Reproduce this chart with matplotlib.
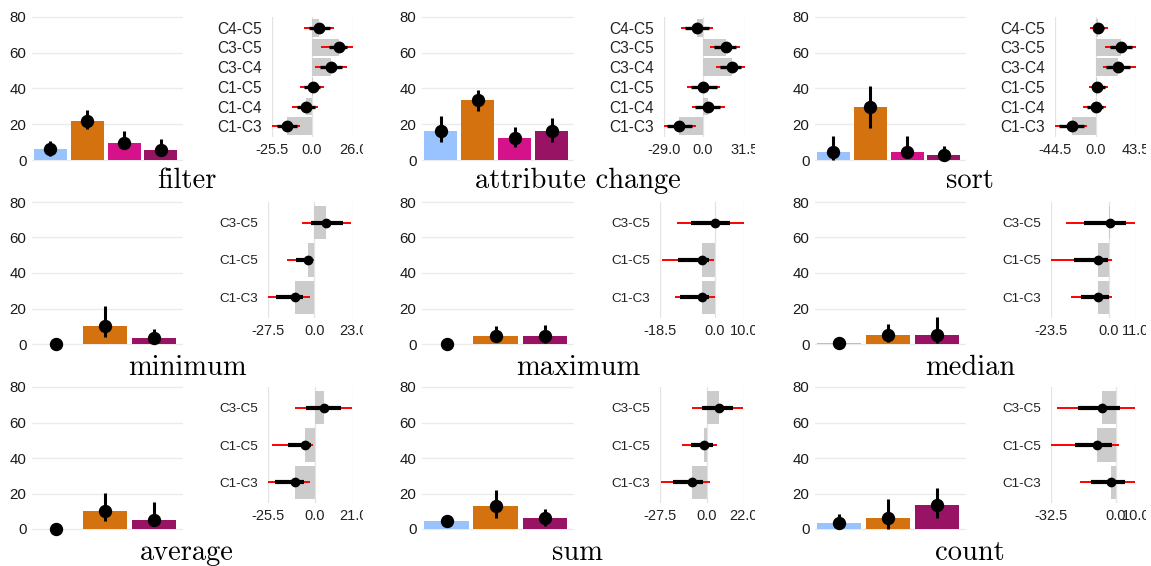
import numpy as np
import matplotlib
matplotlib.use("Agg")
import matplotlib.pyplot as plt
from matplotlib.ticker import FixedLocator, FuncFormatter
from matplotlib.transforms import Bbox, TransformedBbox

plt.rcParams['font.family'] = ['Liberation Sans', 'DejaVu Sans']
plt.rcParams['axes.unicode_minus'] = False

# ---- data ----
panel_names = ["filter", "attribute change", "sort",
               "minimum", "maximum", "median",
               "average", "sum", "count"]

palette = ["#99c3ff", "#d3720f", "#d6128a", "#991364"]
colors_row1 = [palette[0], palette[1], palette[2], palette[3]]
colors_row23 = [palette[0], palette[1], palette[3]]

bar_mean = [
    [6.0, 22.0, 9.7, 5.6],
    [16.2, 33.5, 12.1, 16.2],
    [4.5, 29.6, 4.5, 2.8],
    [0.0, 10.3, 3.4],
    [0.0, 4.3, 4.3],
    [0.6, 5.2, 5.2],
    [0.0, 10.3, 5.2],
    [4.3, 13.1, 6.2],
    [3.4, 6.2, 13.3],
]
bar_lo = [
    [2.5, 17.1, 6.0, 2.0],
    [10.2, 27.5, 7.1, 10.2],
    [0.0, 18.0, 1.9, 0.4],
    [0.0, 3.7, 0.6],
    [0.0, 1.5, 0.6],
    [0.6, 0.9, 0.6],
    [0.0, 4.7, 1.5],
    [1.5, 6.2, 1.9],
    [0.2, 0.0, 6.2],
]
bar_hi = [
    [10.8, 27.9, 16.2, 11.5],
    [24.6, 39.1, 18.2, 23.3],
    [13.4, 41.3, 13.4, 8.0],
    [0.0, 21.5, 8.4],
    [0.0, 9.9, 10.5],
    [0.6, 11.4, 15.2],
    [0.0, 20.2, 15.2],
    [7.5, 22.1, 11.4],
    [8.4, 16.9, 23.0],
]

# pairwise differences, bottom to top
pairs6 = ["C1-C3", "C1-C4", "C1-C5", "C3-C4", "C3-C5", "C4-C5"]
pairs3 = ["C1-C3", "C1-C5", "C3-C5"]

diff_mean = [
    [-15.9, -3.6, 0.6, 12.0, 16.9, 4.6],
    [-17.5, 3.7, 0.0, 21.5, 17.0, -4.2],
    [-25.8, 0.0, 1.1, 24.0, 26.9, 1.8],
    [-11.4, -4.0, 7.0],
    [-4.2, -4.2, 0.1],
    [-4.5, -4.5, 0.3],
    [-10.6, -5.5, 5.0],
    [-8.8, -1.6, 7.2],
    [-2.7, -9.7, -7.2],
]
diff_lo95 = [
    [-25.5, -12.5, -7.8, 2.1, 5.7, -4.9],
    [-29.0, -8.0, -11.7, 10.2, 5.2, -16.0],
    [-44.5, -13.6, -7.4, 7.4, 10.3, -6.6],
    [-27.5, -16.0, -7.4],
    [-13.5, -17.7, -12.6],
    [-15.3, -23.4, -17.6],
    [-25.5, -23.3, -11.0],
    [-27.1, -14.6, -8.8],
    [-18.0, -32.5, -29.7],
]
diff_hi95 = [
    [-7.4, 3.8, 7.4, 22.2, 25.8, 13.7],
    [-5.0, 16.2, 13.2, 31.2, 27.8, 7.5],
    [-9.2, 11.0, 13.6, 43.2, 43.2, 12.9],
    [-2.6, -0.4, 22.0],
    [0.0, -0.2, 9.9],
    [1.2, 1.2, 10.4],
    [-2.4, -0.9, 20.2],
    [1.9, 5.8, 21.4],
    [9.5, 1.5, 9.5],
]
diff_lo50 = [
    [-22.2, -9.5, -5.3, 5.3, 10.6, -2.1],
    [-26.7, -5.5, -9.2, 13.2, 8.2, -13.0],
    [-40.6, -10.0, -4.8, 11.0, 14.8, -3.7],
    [-23.0, -11.0, -2.0],
    [-11.7, -12.4, -8.1],
    [-11.5, -14.2, -10.0],
    [-21.5, -14.7, -4.6],
    [-19.9, -9.2, -2.9],
    [-12.5, -20.5, -18.8],
]
diff_hi50 = [
    [-9.5, 2.1, 5.3, 19.0, 22.2, 11.6],
    [-8.0, 13.2, 10.7, 28.2, 24.5, 4.5],
    [-12.9, 7.4, 10.0, 37.0, 38.7, 9.2],
    [-7.0, -2.0, 17.0],
    [-1.9, -1.9, 5.4],
    [0.0, -0.4, 6.8],
    [-6.0, -1.8, 14.7],
    [-2.3, 3.5, 15.6],
    [4.5, -2.2, 2.0],
]
diff_range = [
    (-25.5, 26.0), (-29.0, 31.5), (-44.5, 43.5),
    (-27.5, 23.0), (-18.5, 10.0), (-23.5, 11.0),
    (-25.5, 21.0), (-27.5, 22.0), (-32.5, 10.0),
]

# ---- layout (pixels) ----
W, H = 1151, 566
fig = plt.figure(figsize=(W / 100, H / 100), dpi=100)

bar_x = [(32, 183), (422, 574), (815, 966)]
row_y80 = [16.7, 202, 387]
row_y0 = [160, 344, 529]
diff_x = [[(272, 353), (664, 745), (1055, 1136)],
          [(268, 353), (660, 744), (1051, 1136)],
          [(268, 353), (660, 744), (1051, 1136)]]
diff_y = [(17, 137), (202, 318), (387, 503)]
title_x = [187, 578, 970]
title_y = [188, 375, 560]
clip_right = [363, 755, 1146]
cell_left = [0, 384, 768]


def px_axes(x0, x1, y0, y1):
    return fig.add_axes([x0 / W, 1 - y1 / H, (x1 - x0) / W, (y1 - y0) / H])


fmt = FuncFormatter(lambda v, p: "%.1f" % v)

for k in range(9):
    r, c = k // 3, k % 3
    cols = colors_row1 if r == 0 else colors_row23
    mean = np.array(bar_mean[k])
    n = len(mean)
    x = np.arange(n)

    # bar chart
    ppu = (row_y0[r] - row_y80[r]) / 80.0
    ax = px_axes(bar_x[c][0], bar_x[c][1], row_y80[r] - 2 * ppu, row_y0[r] + 2 * ppu)
    ax.bar(x, mean, width=0.9, color=cols, zorder=2)
    ax.vlines(x, bar_lo[k], bar_hi[k], color='black', lw=2.2, zorder=3)
    ax.plot(x, mean, 'o', color='black', ms=8.6, zorder=4, clip_on=False)
    ax.set_xlim(-0.5, n - 0.4)
    ax.set_ylim(-2, 82)
    ax.set_yticks([0, 20, 40, 60, 80])
    ax.set_xticks([])
    ax.grid(axis='y', color='#ebebeb', lw=1.0, zorder=0)
    ax.set_axisbelow(True)
    for s in ax.spines.values():
        s.set_visible(False)
    ax.tick_params(axis='y', length=0, pad=4, labelsize=10.8, labelcolor='#1a1a1a')

    # difference chart
    labels = pairs6 if r == 0 else pairs3
    m = len(labels)
    y = np.arange(m)
    lo, hi = diff_range[k]
    dx = diff_x[r][c]
    ax2 = px_axes(dx[0], dx[1], diff_y[r][0], diff_y[r][1])
    ax2.barh(y, diff_mean[k], height=0.9, color='#cccccc', zorder=1)
    lw_red = 1.4
    lw_blk = 2.4 if r == 0 else 3.0
    ms_dot = 7.5 if r == 0 else 6.0
    ax2.hlines(y, diff_lo95[k], diff_hi95[k], color='#ff0000', lw=lw_red, zorder=2)
    ax2.hlines(y, diff_lo50[k], diff_hi50[k], color='black', lw=lw_blk, zorder=3)
    ax2.plot(diff_mean[k], y, 'o', color='black', ms=ms_dot, zorder=4, clip_on=False)
    ax2.set_xlim(lo, hi)
    ax2.set_ylim(-0.55, m - 0.45)
    ax2.xaxis.set_major_locator(FixedLocator([lo, 0.0, hi]))
    ax2.xaxis.set_major_formatter(fmt)
    ax2.set_yticks(y)
    ax2.set_yticklabels(labels)
    ax2.grid(axis='x', color='#e3e3e3', lw=0.9, zorder=0)
    ax2.set_axisbelow(True)
    for s in ax2.spines.values():
        s.set_visible(False)
    ax2.tick_params(axis='x', length=0, pad=4, labelsize=10.5, labelcolor='#222222')
    ax2.tick_params(axis='y', length=0, pad=7,
                    labelsize=11.2 if r == 0 else 9.7, labelcolor='#222222')

    # cut the tick labels at the cell edge like the source images
    box = TransformedBbox(Bbox([[cell_left[c] / W, 0], [clip_right[c] / W, 1]]),
                          fig.transFigure)
    for t in ax2.xaxis.get_major_ticks(3):
        t.label1.set_clip_box(box)
        t.label1.set_clip_on(True)

    fig.text(title_x[c] / W, 1 - title_y[r] / H, panel_names[k],
             family='cmr10', fontsize=20.5, ha='center', va='baseline')

fig.savefig("out.png", dpi=100)
